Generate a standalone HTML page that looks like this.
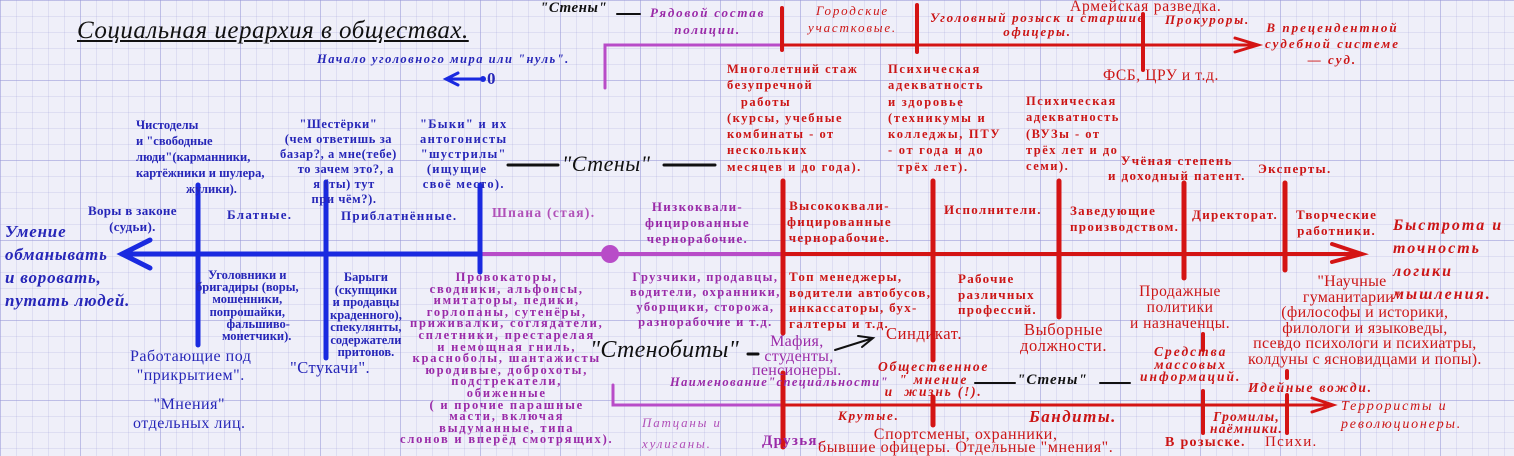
<!DOCTYPE html>
<html><head><meta charset="utf-8"><style>
html,body{margin:0;padding:0}
body{width:1514px;height:456px;position:relative;overflow:hidden;
background-color:#efeff9;
background-image:linear-gradient(to right,rgba(150,150,215,.45) 1px,transparent 1px),linear-gradient(to bottom,rgba(150,150,215,.45) 1px,transparent 1px),linear-gradient(to right,rgba(170,170,220,.25) 1px,transparent 1px),linear-gradient(to bottom,rgba(170,170,220,.25) 1px,transparent 1px);
background-size:80px 80px,80px 80px,16px 16px,16px 16px;
font-family:"Liberation Serif",serif;font-weight:bold;font-size:13px;line-height:13px;letter-spacing:1.3px}
.t{position:absolute;white-space:pre}
.c{text-align:center}
.b{color:#2626b8}.p{color:#9a2aa8}.r{color:#cc1515}.k{color:#111}
.i{font-style:italic;letter-spacing:1.8px}
.n{font-weight:normal}
svg{position:absolute;left:0;top:0}
</style></head><body>
<svg width="1514" height="456">
<g stroke-linecap="round">
<line x1="125" y1="254" x2="480" y2="254" stroke="#1a2ae0" stroke-width="5"/>
<polyline points="150,240 122,254 150,268" fill="none" stroke="#1a2ae0" stroke-width="5"/>
<line x1="480" y1="254" x2="783" y2="254" stroke="#b84cc8" stroke-width="4"/>
<circle cx="610" cy="254" r="9" fill="#b84cc8"/>
<line x1="783" y1="254" x2="1360" y2="254" stroke="#d41414" stroke-width="4"/>
<polyline points="1332,244 1362,254 1332,262" fill="none" stroke="#d41414" stroke-width="4"/>
<line x1="198" y1="185" x2="198" y2="345" stroke="#1a2ae0" stroke-width="5"/>
<line x1="326" y1="182" x2="326" y2="358" stroke="#1a2ae0" stroke-width="5"/>
<line x1="480" y1="185" x2="480" y2="272" stroke="#1a2ae0" stroke-width="5"/>
<line x1="450" y1="79" x2="483" y2="79" stroke="#1a2ae0" stroke-width="3"/>
<polyline points="458,73 446,79 458,85" fill="none" stroke="#1a2ae0" stroke-width="3"/>
<circle cx="483" cy="79" r="3" fill="#1a2ae0"/>
<polyline points="605,88 605,45 783,45" fill="none" stroke="#b84cc8" stroke-width="3"/>
<line x1="783" y1="45" x2="1255" y2="45" stroke="#d41414" stroke-width="3"/>
<polyline points="1235,38 1258,45 1235,52" fill="none" stroke="#d41414" stroke-width="3"/>
<line x1="782" y1="8" x2="782" y2="50" stroke="#d41414" stroke-width="4"/>
<line x1="917" y1="5" x2="917" y2="52" stroke="#d41414" stroke-width="4"/>
<line x1="1143" y1="14" x2="1143" y2="70" stroke="#d41414" stroke-width="4"/>
<line x1="783" y1="181" x2="783" y2="333" stroke="#d41414" stroke-width="5"/>
<line x1="933" y1="181" x2="933" y2="360" stroke="#d41414" stroke-width="5"/>
<line x1="1059" y1="181" x2="1059" y2="317" stroke="#d41414" stroke-width="5"/>
<line x1="1184" y1="183" x2="1184" y2="278" stroke="#d41414" stroke-width="5"/>
<line x1="1285" y1="183" x2="1285" y2="270" stroke="#d41414" stroke-width="5"/>
<polyline points="613,385 613,405 783,405" fill="none" stroke="#b84cc8" stroke-width="3"/>
<line x1="783" y1="405" x2="1330" y2="405" stroke="#d41414" stroke-width="3"/>
<polyline points="1312,398 1333,405 1312,412" fill="none" stroke="#d41414" stroke-width="3"/>
<line x1="783" y1="373" x2="783" y2="447" stroke="#d41414" stroke-width="5"/>
<line x1="933" y1="397" x2="933" y2="425" stroke="#d41414" stroke-width="5"/>
<line x1="1203" y1="334" x2="1203" y2="350" stroke="#d41414" stroke-width="4"/>
<line x1="1203" y1="391" x2="1203" y2="433" stroke="#d41414" stroke-width="4"/>
<line x1="1287" y1="371" x2="1287" y2="378" stroke="#d41414" stroke-width="4"/>
<line x1="1287" y1="395" x2="1287" y2="433" stroke="#d41414" stroke-width="4"/>
<line x1="508" y1="165" x2="558" y2="165" stroke="#111" stroke-width="3"/>
<line x1="664" y1="165" x2="715" y2="165" stroke="#111" stroke-width="3"/>
<line x1="617" y1="14" x2="640" y2="14" stroke="#111" stroke-width="2"/>
<line x1="748" y1="354" x2="758" y2="354" stroke="#111" stroke-width="3"/>
<line x1="975" y1="383" x2="1015" y2="383" stroke="#111" stroke-width="2"/>
<line x1="1100" y1="383" x2="1130" y2="383" stroke="#111" stroke-width="2"/>
<line x1="835" y1="350" x2="870" y2="339" stroke="#111" stroke-width="2"/>
<polyline points="858,336 873,338 862,347" fill="none" stroke="#111" stroke-width="2"/>
</g>
</svg>

<div class="t k i n" style="left:77px;top:17px;font-size:25px;line-height:28px;letter-spacing:0.5px;text-decoration:underline">Социальная иерархия в обществах.</div>
<div class="t b i" style="left:317px;top:53px;font-size:12.5px;letter-spacing:1.5px">Начало уголовного мира или "нуль".</div>
<div class="t b" style="left:487px;top:70px;font-size:17px;line-height:17px">0</div>

<div class="t b" style="left:136px;top:117px;line-height:16px;font-size:12.5px;letter-spacing:0">Чистоделы
и "свободные
люди"(карманники,
картёжники и шулера,
                жулики).</div>
<div class="t b c" style="left:280px;top:117px;line-height:15px;font-size:12.5px;letter-spacing:0.6px">"Шестёрки"
(чем ответишь за
базар?, а мне(тебе)
    то зачем это?, а
   я (ты) тут
   при чём?).</div>
<div class="t b c" style="left:420px;top:117px;line-height:15px;font-size:12.5px">"Быки" и их
антогонисты
"шустрилы"
(ищущие   
своё место).</div>
<div class="t b c" style="left:88px;top:203px;line-height:16px;letter-spacing:0.3px">Воры в законе
(судьи).</div>
<div class="t b" style="left:227px;top:208px">Блатные.</div>
<div class="t b" style="left:341px;top:209px">Приблатнённые.</div>
<div class="t p" style="left:492px;top:206px;color:#b050b8;font-size:13.5px">Шпана (стая).</div>
<div class="t b i" style="left:5px;top:220px;font-size:17px;line-height:23px;letter-spacing:0.8px">Умение
обманывать
и воровать,
путать людей.</div>

<div class="t b c" style="left:196px;top:269px;line-height:12.2px;font-size:12.5px;letter-spacing:0">Уголовники и
бригадиры (воры,
мошенники,
попрошайки,
       фальшиво-
      монетчики).</div>
<div class="t b c" style="left:330px;top:271px;line-height:12.5px;font-size:12.5px;letter-spacing:0">Барыги
(скупщики
и продавцы
краденного),
спекулянты,
содержатели
притонов.</div>
<div class="t p c" style="left:400px;top:272px;line-height:11.6px;font-size:12.5px;letter-spacing:1.8px">Провокаторы,
сводники, альфонсы,
имитаторы, педики,
горлопаны, сутенёры,
приживалки, соглядатели,
сплетники, престарелая
и немощная гниль,
красноболы, шантажисты
юродивые, доброхоты,
подстрекатели,
обиженные
( и прочие парашные
масти, включая
выдуманные, типа
слонов и вперёд смотрящих).</div>
<div class="t b c n" style="left:130px;top:347px;font-size:16px;line-height:19px;letter-spacing:0.5px">Работающие под
"прикрытием".</div>
<div class="t b n" style="left:290px;top:361px;font-size:16.5px;letter-spacing:0.5px">"Стукачи".</div>
<div class="t b c n" style="left:133px;top:395px;font-size:16px;line-height:19px;letter-spacing:0.5px">"Мнения"
отдельных лиц.</div>

<div class="t k i" style="left:540px;top:2px;font-size:15px;letter-spacing:0.5px">"Стены"</div>
<div class="t p i c" style="left:650px;top:4px;line-height:17px">Рядовой состав
полиции.</div>
<div class="t k i n" style="left:562px;top:153px;font-size:22px;line-height:22px;letter-spacing:0.5px">"Стены"</div>
<div class="t p c" style="left:645px;top:199px;line-height:16px">Низкоквали-
фицированные
чернорабочие.</div>
<div class="t p c" style="left:630px;top:270px;line-height:15px;font-size:12.5px;letter-spacing:1.4px">Грузчики, продавцы,
водители, охранники,
уборщики, сторожа,
разнорабочие и т.д.</div>
<div class="t k i n" style="left:590px;top:338px;font-size:24px;line-height:24px;letter-spacing:0.3px">"Стенобиты"</div>
<div class="t p c n" style="left:752px;top:335px;font-size:16px;line-height:14.5px;letter-spacing:0.3px">Мафия,
 студенты,
пенсионеры.</div>
<div class="t p i" style="left:670px;top:376px;font-size:12.5px;letter-spacing:1.4px">Наименование"специальности"</div>
<div class="t p i n" style="left:642px;top:412px;line-height:21px;color:#b050b8">Патцаны и
хулиганы.</div>
<div class="t p" style="left:762px;top:435px;font-size:15px">Друзья.</div>

<div class="t r i c n" style="left:808px;top:2px;line-height:17px">Городские
участковые.</div>
<div class="t r n" style="left:1070px;top:0px;font-size:15.5px;letter-spacing:0.8px">Армейская разведка.</div>
<div class="t r i c" style="left:930px;top:11px;line-height:14px;letter-spacing:1.7px">Уголовный розыск и старшие
офицеры.</div>
<div class="t r i" style="left:1165px;top:13px">Прокуроры.</div>
<div class="t r i c" style="left:1265px;top:20px;line-height:16px;letter-spacing:2px">В прецендентной
судебной системе
— суд.</div>
<div class="t r n" style="left:1103px;top:69px;font-size:15.5px;letter-spacing:0.6px">ФСБ, ЦРУ и т.д.</div>
<div class="t r" style="left:727px;top:61px;line-height:16.3px;font-size:12.5px;letter-spacing:1.5px">Многолетний стаж
безупречной
   работы
(курсы, учебные
комбинаты - от
нескольких
месяцев и до года).</div>
<div class="t r" style="left:888px;top:61px;line-height:16.3px;font-size:12.5px;letter-spacing:1.7px">Психическая
адекватность
и здоровье
(техникумы и
колледжы, ПТУ
- от года и до
  трёх лет).</div>
<div class="t r" style="left:1026px;top:93px;line-height:16.3px;font-size:12.5px;letter-spacing:1.5px">Психическая
адекватность
(ВУЗы - от
трёх лет и до
семи).</div>
<div class="t r c" style="left:1108px;top:153px;line-height:15px;font-size:13px;letter-spacing:1.4px">Учёная степень
и доходный патент.</div>
<div class="t r" style="left:1258px;top:162px">Эксперты.</div>
<div class="t r c" style="left:787px;top:198px;line-height:16px">Высококвали-
фицированные
чернорабочие.</div>
<div class="t r" style="left:944px;top:203px">Исполнители.</div>
<div class="t r" style="left:1070px;top:203px;line-height:16px">Заведующие
производством.</div>
<div class="t r" style="left:1192px;top:208px">Директорат.</div>
<div class="t r c" style="left:1296px;top:207px;line-height:16px">Творческие
работники.</div>
<div class="t r i" style="left:1393px;top:214px;font-size:16px;line-height:23px;letter-spacing:2px">Быстрота и
точность
логики
мышления.</div>
<div class="t r" style="left:789px;top:269px;line-height:15.5px">Топ менеджеры,
водители автобусов,
инкассаторы, бух-
галтеры и т.д.</div>
<div class="t r" style="left:958px;top:271px;line-height:15.5px">Рабочие
различных
профессий.</div>
<div class="t r n" style="left:886px;top:327px;font-size:16.5px;letter-spacing:0.6px">Синдикат.</div>
<div class="t r c n" style="left:1020px;top:322px;font-size:16.5px;line-height:15.5px;letter-spacing:0.6px">Выборные
должности.</div>
<div class="t r c n" style="left:1130px;top:284px;font-size:15.5px;line-height:16px;letter-spacing:0.5px">Продажные
политики
и назначенцы.</div>
<div class="t r c n" style="left:1248px;top:274px;font-size:16px;line-height:15.5px;letter-spacing:0.3px">"Научные      
гуманитарии"      
(философы и историки,
филологи и языковеды,
псевдо психологи и психиатры,
колдуны с ясновидцами и попы).</div>
<div class="t r i c" style="left:878px;top:361px;line-height:12.5px;font-size:13.5px">Общественное
" мнение
и  жизнь (!).</div>
<div class="t k i" style="left:1017px;top:374px;font-size:15px;letter-spacing:1px">"Стены"</div>
<div class="t r i c" style="left:1140px;top:346px;line-height:12.5px;font-size:13.5px;letter-spacing:2px">Средства
массовых
информаций.</div>
<div class="t r i" style="left:1248px;top:381px;font-size:13.5px">Идейные вожди.</div>
<div class="t r i" style="left:838px;top:409px">Крутые.</div>
<div class="t r i" style="left:1029px;top:408px;font-size:17px;line-height:17px;letter-spacing:1.5px">Бандиты.</div>
<div class="t r c n" style="left:818px;top:428px;font-size:16px;line-height:13px;letter-spacing:0.6px">Спортсмены, охранники,
бывшие офицеры. Отдельные "мнения".</div>
<div class="t r i c" style="left:1210px;top:411px;line-height:12px;font-size:13.5px;letter-spacing:1.2px">Громилы,
наёмники.</div>
<div class="t r" style="left:1165px;top:436px;font-size:14px">В розыске.</div>
<div class="t r n" style="left:1265px;top:436px;font-size:15px">Психи.</div>
<div class="t r i n" style="left:1341px;top:398px;line-height:18px;font-size:14px">Террористы и
революционеры.</div>
</body></html>
